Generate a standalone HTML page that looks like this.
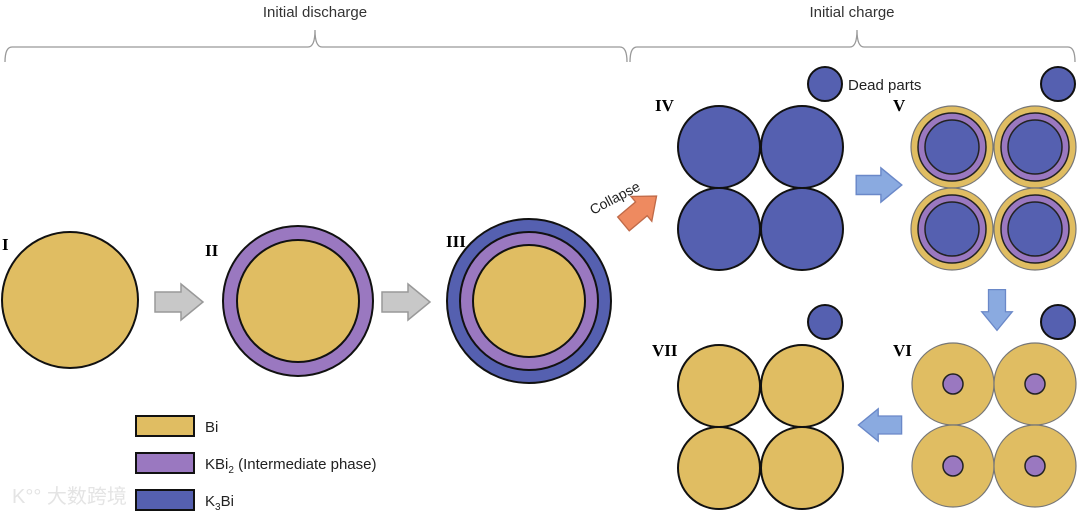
<!DOCTYPE html>
<html><head><meta charset="utf-8"><style>
html,body{margin:0;padding:0;background:#fff;width:1080px;height:514px;overflow:hidden}
svg{display:block}
text{font-family:"Liberation Sans",sans-serif}
.r{font-family:"Liberation Serif",serif;font-weight:bold;font-size:17px}
</style></head><body>
<svg width="1080" height="514" viewBox="0 0 1080 514" xmlns="http://www.w3.org/2000/svg">
<defs>
<g id="garrow"><path d="M-24,-10 L2,-10 L2,-18 L24,0 L2,18 L2,10 L-24,10 Z" /></g>
</defs>
<g fill="none" stroke="#999" stroke-width="1.3">
<path d="M5,62 Q5,47 12,47 L308,47 Q315,47 315,30 Q315,47 322,47 L620,47 Q627,47 627,62"/>
<path d="M630,62 Q630,47 637,47 L850,47 Q857,47 857,30 Q857,47 864,47 L1068,47 Q1075,47 1075,62"/>
</g>
<text x="315" y="17" font-size="15" text-anchor="middle" fill="#333">Initial discharge</text>
<text x="852" y="17" font-size="15" text-anchor="middle" fill="#333">Initial charge</text>

<g stroke="#111" stroke-width="2">
<circle cx="70" cy="300" r="68" fill="#E0BD62"/>
<circle cx="298" cy="301" r="75" fill="#9A78C0"/>
<circle cx="298" cy="301" r="61" fill="#E0BD62"/>
<circle cx="529" cy="301" r="82" fill="#5560B0"/>
<circle cx="529" cy="301" r="69" fill="#9A78C0"/>
<circle cx="529" cy="301" r="56" fill="#E0BD62"/>
<circle cx="719" cy="147" r="41" fill="#5560B0"/>
<circle cx="802" cy="147" r="41" fill="#5560B0"/>
<circle cx="719" cy="229" r="41" fill="#5560B0"/>
<circle cx="802" cy="229" r="41" fill="#5560B0"/>
<circle cx="825" cy="84" r="17" fill="#5560B0"/>
<circle cx="1058" cy="84" r="17" fill="#5560B0"/>
<circle cx="825" cy="322" r="17" fill="#5560B0"/>
<circle cx="1058" cy="322" r="17" fill="#5560B0"/>
</g>
<g>
<g id="v1"><circle cx="952" cy="147" r="41" fill="#E0BD62" stroke="#777" stroke-width="1.2"/><circle cx="952" cy="147" r="34" fill="#9A78C0" stroke="#222" stroke-width="1.5"/><circle cx="952" cy="147" r="27" fill="#5560B0" stroke="#222" stroke-width="1.5"/></g>
<use href="#v1" x="83"/><use href="#v1" y="82"/><use href="#v1" x="83" y="82"/>
</g>
<g>
<g id="s1"><circle cx="953" cy="384" r="41" fill="#E0BD62" stroke="#777" stroke-width="1.2"/><circle cx="953" cy="384" r="10" fill="#9A78C0" stroke="#222" stroke-width="1.5"/></g>
<use href="#s1" x="82"/><use href="#s1" y="82"/><use href="#s1" x="82" y="82"/>
</g>
<g fill="#E0BD62" stroke="#111" stroke-width="2">
<circle cx="719" cy="386" r="41"/><circle cx="802" cy="386" r="41"/>
<circle cx="719" cy="468" r="41"/><circle cx="802" cy="468" r="41"/>
</g>
<text class="r" x="2" y="250">I</text>
<text class="r" x="205" y="256">II</text>
<text class="r" x="446" y="247">III</text>
<text class="r" x="655" y="111">IV</text>
<text class="r" x="893" y="111">V</text>
<text class="r" x="893" y="356">VI</text>
<text class="r" x="652" y="356">VII</text>
<text x="848" y="90" font-size="15" fill="#222">Dead parts</text>
<text x="0" y="0" font-size="14" fill="#222" transform="translate(593,215) rotate(-28)">Collapse</text>
<g fill="#c8c8c8" stroke="#999" stroke-width="1.5">
<use href="#garrow" transform="translate(179,302)"/>
<use href="#garrow" transform="translate(406,302)"/>
</g>
<use href="#garrow" transform="translate(640,210) rotate(-40) scale(0.9)" fill="#EE8A60" stroke="#c06a48" stroke-width="1.5"/>
<g fill="#8aaae0" stroke="#6a88c8" stroke-width="1.5">
<use href="#garrow" transform="translate(879,185) scale(0.95)"/>
<use href="#garrow" transform="translate(997,310) rotate(90) scale(0.85)"/>
<use href="#garrow" transform="translate(880,425) rotate(180) scale(0.9)"/>
</g>
<g stroke="#111" stroke-width="2">
<rect x="136" y="416" width="58" height="20" fill="#E0BD62"/>
<rect x="136" y="453" width="58" height="20" fill="#9A78C0"/>
<rect x="136" y="490" width="58" height="20" fill="#5560B0"/>
</g>
<text x="205" y="432" font-size="15" fill="#222">Bi</text>
<text x="205" y="469" font-size="15" fill="#222">KBi<tspan font-size="10" dy="4">2</tspan><tspan dy="-4"> (Intermediate phase)</tspan></text>
<text x="205" y="506" font-size="15" fill="#222">K<tspan font-size="10" dy="4">3</tspan><tspan dy="-4">Bi</tspan></text>
<text x="12" y="503" font-size="20" fill="#e4e4e4" style="font-family:'Liberation Sans','Noto Sans CJK SC',sans-serif">K°° 大数跨境</text>
</svg>
</body></html>
